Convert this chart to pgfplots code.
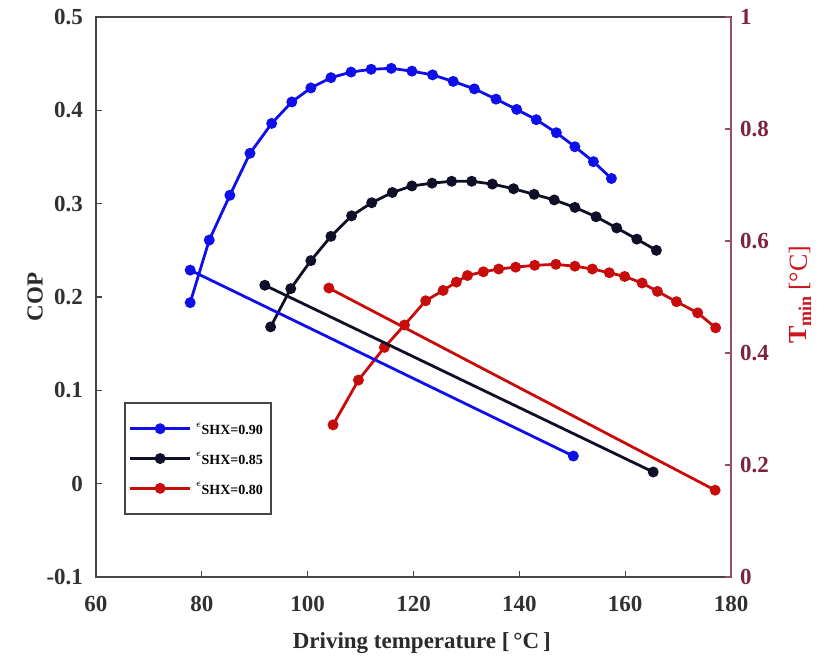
\documentclass[border=0pt]{standalone}
\usepackage{pgfplots}
\pgfplotsset{compat=1.18}
\usepackage{fontspec}
\setmainfont{Liberation Serif}
\definecolor{cblue}{RGB}{15,15,235}
\definecolor{cblack}{RGB}{15,15,40}
\definecolor{cred}{RGB}{200,12,12}
\definecolor{maroon}{RGB}{125,35,65}
\definecolor{axgray}{RGB}{70,70,70}
\definecolor{lblred}{RGB}{205,20,30}

\pgfplotstableread{
x y
77.8 0.194
81.4 0.261
85.3 0.309
89.1 0.354
93.2 0.386
97.0 0.409
100.6 0.424
104.4 0.435
108.2 0.441
112.0 0.444
115.8 0.445
119.7 0.442
123.6 0.438
127.5 0.431
131.5 0.423
135.6 0.412
139.5 0.401
143.2 0.390
147.0 0.376
150.5 0.361
154.0 0.345
157.4 0.327
}\copblue

\pgfplotstableread{
x y
93.0 0.168
96.8 0.209
100.6 0.239
104.4 0.265
108.3 0.287
112.1 0.301
116.0 0.312
119.7 0.319
123.5 0.322
127.2 0.324
131.0 0.324
134.9 0.321
138.9 0.316
142.8 0.310
146.6 0.304
150.5 0.296
154.5 0.286
158.4 0.274
162.2 0.262
165.9 0.250
}\copblack

\pgfplotstableread{
x y
104.8 0.063
109.6 0.111
114.5 0.146
118.3 0.170
122.3 0.196
125.6 0.207
128.1 0.216
130.2 0.223
133.2 0.227
136.1 0.230
139.3 0.232
142.9 0.234
146.9 0.235
150.5 0.233
153.8 0.230
157.0 0.226
159.9 0.222
163.2 0.215
166.1 0.206
169.7 0.195
173.7 0.183
177.1 0.167
}\copred

\newcommand{\eps}[1]{\raisebox{0.7ex}{\fontsize{5}{5}\selectfont$\epsilon$}\raisebox{-0.5ex}{#1}}

\begin{document}
\begin{tikzpicture}
\pgfplotsset{every axis/.append style={
  scale only axis, width=317.5pt, height=280pt,
  xmin=60, xmax=180,
  tick align=inside, major tick length=3pt,
  /pgf/number format/assume math mode=true,
  tick label style={font=\fontsize{11.5}{12}\selectfont\bfseries},
}}
\begin{axis}[
  ymin=-0.1, ymax=0.5,
  xtick={60,80,...,180},
  ytick={-0.1,0,0.1,0.2,0.3,0.4,0.5},
  yticklabels={-0.1,0,0.1,0.2,0.3,0.4,0.5},
  xtick pos=bottom, ytick pos=left,
  axis line style={axgray, line width=0.8pt},
  tick style={axgray, line width=0.6pt},
  xticklabel style={yshift=-6pt, text=axgray!70!black},
  yticklabel style={xshift=-3pt, text=axgray!70!black},
  xlabel={Driving temperature [\,°C\,]},
  ylabel={COP},
  label style={font=\fontsize{11.5}{12}\selectfont\bfseries, text=axgray!60!black},
  xlabel style={at={(axis description cs:0.513,-0.118)}, anchor=center},
  ylabel style={at={(axis description cs:-0.096,0.5)}, anchor=center},
  legend style={at={(axis description cs:0.044,0.3125)}, anchor=north west,
    draw=axgray, line width=0.8pt, inner xsep=2pt, inner ysep=8pt,
    row sep=5pt, font=\fontsize{7}{7.5}\selectfont\bfseries, fill=white},
  legend cell align=left,
  legend image code/.code={
    \draw[mark repeat=2, mark phase=2] plot coordinates {(0pt,0pt) (15pt,0pt) (30pt,0pt)};
  },
]
\addplot[cblue, line width=1.4pt, mark=*, mark size=2pt] table {\copblue};
\addlegendentry{\eps{SHX=0.90}}
\addplot[cblack, line width=1.4pt, mark=*, mark size=2pt] table {\copblack};
\addlegendentry{\eps{SHX=0.85}}
\addplot[cred, line width=1.4pt, mark=*, mark size=2pt] table {\copred};
\addlegendentry{\eps{SHX=0.80}}
\end{axis}
\begin{axis}[
  ymin=0, ymax=1,
  axis x line=none,
  axis y line*=right,
  ytick={0,0.2,0.4,0.6,0.8,1},
  yticklabels={0,0.2,0.4,0.6,0.8,1},
  axis line style={maroon!80, line width=0.9pt},
  tick style={maroon!80, line width=0.6pt},
  yticklabel style={text=maroon, xshift=1pt},
  ylabel={\textbf{T}$_{\textbf{\fontsize{9}{9}\selectfont min}}$\,[°C]},
  ylabel style={at={(axis description cs:1.1087,0.504)}, anchor=center,
    font=\fontsize{13}{14}\selectfont, text=lblred},
]
\addplot[cblue, line width=1.4pt, mark=*, mark size=2pt] coordinates {(77.8,0.548) (150.2,0.216)};
\addplot[cblack, line width=1.4pt, mark=*, mark size=2pt] coordinates {(91.9,0.521) (165.3,0.1875)};
\addplot[cred, line width=1.4pt, mark=*, mark size=2pt] coordinates {(104.0,0.516) (177.0,0.155)};
\end{axis}
\pgfresetboundingbox
\path (-48pt,-44.5pt) rectangle (366pt,288.5pt);
\end{tikzpicture}
\end{document}
